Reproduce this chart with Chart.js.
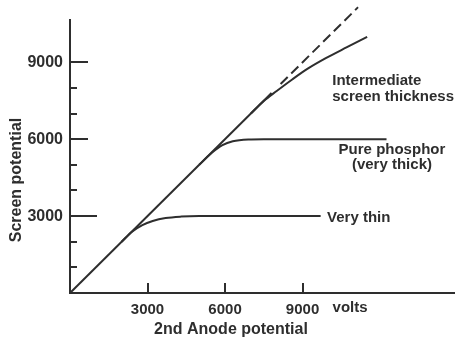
<!DOCTYPE html>
<html>
<head>
<meta charset="utf-8">
<script src="https://cdn.jsdelivr.net/npm/chart.js@4/dist/chart.umd.min.js"></script>
<style>
  html, body { margin: 0; padding: 0; background: #ffffff; }
  #wrap { width: 455px; height: 337px; }
</style>
</head>
<body>
<div id="wrap"><canvas id="chart" width="455" height="337"></canvas></div>
<script>
// Tick values on each axis (volts)
const anodeTicks = [3000, 6000, 9000];
const screenTicks = [3000, 6000, 9000];
const screenMinorTicks = [1000, 2000, 4000, 5000, 7000, 8000];

// Ideal response: screen potential follows the 2nd anode potential
const idealAnode = [0, 7800];
const idealScreen = [0, 7800];
// Extrapolation of the ideal line (dashed)
const extrapAnode = [8150, 11150];
const extrapScreen = [8150, 11150];

// Intermediate screen thickness
const interAnode = [7000, 7500, 8000, 8600, 9200, 9900, 10700, 11500];
const interScreen = [7000, 7490, 7880, 8330, 8750, 9160, 9580, 9990];

// Pure phosphor (very thick)
const thickAnode = [5000, 5500, 5900, 6300, 6900, 7500, 12250];
const thickScreen = [5000, 5480, 5770, 5920, 5990, 6000, 6000];

// Very thin screen
const thinAnode = [2000, 2400, 2800, 3200, 3700, 4300, 5000, 9700];
const thinScreen = [2000, 2390, 2650, 2810, 2925, 2980, 3000, 3000];

const ink = '#2e2e2e';
const family = '"Liberation Sans", Arial, sans-serif';

function points(xs, ys) {
  return xs.map((v, i) => ({ x: v, y: ys[i] }));
}

function curve(xs, ys, dash) {
  return {
    data: points(xs, ys),
    showLine: true,
    borderColor: ink,
    borderWidth: 2,
    borderDash: dash || [],
    pointRadius: 0,
    pointHoverRadius: 0,
    cubicInterpolationMode: 'monotone',
    clip: false,
    fill: false
  };
}

// Inward tick marks, curve labels and axis titles
const axisMarks = {
  id: 'axisMarks',
  afterDraw(chart) {
    const { ctx, scales: { x, y }, chartArea: a } = chart;
    ctx.save();
    ctx.strokeStyle = ink;
    ctx.lineWidth = 2;
    ctx.beginPath();
    screenTicks.forEach(v => {
      const py = Math.round(y.getPixelForValue(v));
      const len = v === 3000 ? 27 : 18;
      ctx.moveTo(a.left, py);
      ctx.lineTo(a.left + len, py);
    });
    screenMinorTicks.forEach(v => {
      const py = Math.round(y.getPixelForValue(v));
      ctx.moveTo(a.left, py);
      ctx.lineTo(a.left + 7, py);
    });
    anodeTicks.forEach(v => {
      const px = Math.round(x.getPixelForValue(v));
      ctx.moveTo(px, a.bottom);
      ctx.lineTo(px, a.bottom - 10);
    });
    ctx.stroke();

    ctx.fillStyle = ink;
    ctx.textBaseline = 'middle';

    // unit after the last anode tick label
    ctx.font = 'bold 15px ' + family;
    ctx.textAlign = 'left';
    ctx.fillText('volts', x.getPixelForValue(9000) + 30, 308);

    // curve labels
    ctx.font = 'bold 15px ' + family;
    ctx.textAlign = 'left';
    ctx.fillText('Intermediate', x.getPixelForValue(10150), y.getPixelForValue(8270));
    ctx.fillText('screen thickness', x.getPixelForValue(10150), y.getPixelForValue(7640));
    ctx.textAlign = 'center';
    ctx.fillText('Pure phosphor', x.getPixelForValue(12460), y.getPixelForValue(5580));
    ctx.fillText('(very thick)', x.getPixelForValue(12460), y.getPixelForValue(4990));
    ctx.textAlign = 'left';
    ctx.fillText('Very thin', x.getPixelForValue(9950), y.getPixelForValue(2930));

    // axis titles
    ctx.font = 'bold 16px ' + family;
    ctx.textAlign = 'center';
    ctx.fillText('2nd Anode potential', 231, 330);
    ctx.save();
    ctx.translate(17, 180);
    ctx.rotate(-Math.PI / 2);
    ctx.fillText('Screen potential', 0, 0);
    ctx.restore();

    ctx.restore();
  }
};

new Chart(document.getElementById('chart'), {
  type: 'scatter',
  data: {
    datasets: [
      curve(idealAnode, idealScreen),
      curve(extrapAnode, extrapScreen, [10, 5]),
      curve(interAnode, interScreen),
      curve(thickAnode, thickScreen),
      curve(thinAnode, thinScreen)
    ]
  },
  options: {
    responsive: false,
    animation: false,
    events: [],
    layout: { padding: { top: 20, left: 0, right: 0, bottom: 0 }, autoPadding: false },
    plugins: {
      legend: { display: false },
      tooltip: { enabled: false }
    },
    scales: {
      x: {
        type: 'linear',
        min: 0,
        max: 14900,
        afterFit(s) { s.height = 44; },
        afterBuildTicks(s) { s.ticks = anodeTicks.map(v => ({ value: v })); },
        grid: { display: false, drawTicks: false },
        border: { display: true, color: ink, width: 2 },
        ticks: {
          color: ink,
          font: { family: family, size: 15, weight: 'bold' },
          padding: 8,
          maxRotation: 0,
          autoSkip: false,
          callback: v => String(v)
        }
      },
      y: {
        type: 'linear',
        min: 0,
        max: 10650,
        afterFit(s) { s.width = 70; },
        afterBuildTicks(s) { s.ticks = screenTicks.map(v => ({ value: v })); },
        grid: { display: false, drawTicks: false },
        border: { display: true, color: ink, width: 2 },
        ticks: {
          color: ink,
          font: { family: family, size: 16, weight: 'bold' },
          padding: 7,
          autoSkip: false,
          callback: v => String(v)
        }
      }
    }
  },
  plugins: [axisMarks]
});
</script>
</body>
</html>
